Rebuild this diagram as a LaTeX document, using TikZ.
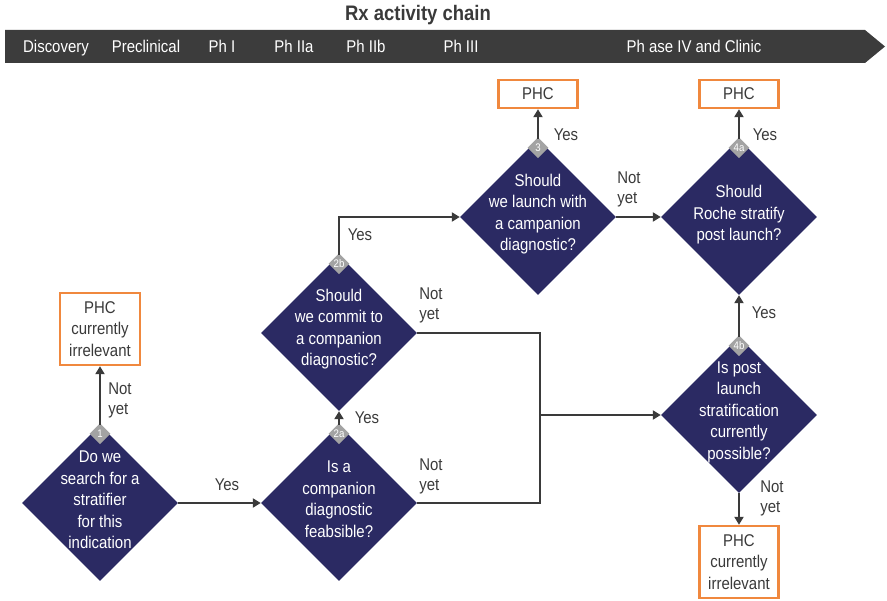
\documentclass[tikz,border=0pt]{standalone}
\usepackage{fontspec}
\setmainfont{Liberation Sans}[FakeStretch=0.88]
\usetikzlibrary{shapes.geometric,arrows.meta}
\definecolor{navy}{HTML}{2B2A63}
\definecolor{phcorange}{HTML}{F0883E}
\definecolor{band}{HTML}{3C3C3C}
\definecolor{badgegray}{HTML}{A3A3A3}
\definecolor{ink}{HTML}{3A3A3A}
\tikzset{
  dia/.style={diamond, aspect=1, fill=navy, draw=none, inner sep=0pt,
              minimum width=156pt, minimum height=156pt},
  dtext/.style={text=white, align=center, font=\fontsize{17}{21.5}\selectfont},
  badge/.style={diamond, aspect=1, fill=badgegray, inner sep=0pt,
                minimum width=21pt, minimum height=21pt, text=white,
                font=\fontsize{11}{11}\selectfont},
  phc/.style={draw=phcorange, line width=2.4pt, fill=white, text=ink,
              align=center, inner sep=0pt, font=\fontsize{17}{21.5}\selectfont},
  lbl/.style={text=ink, align=left, font=\fontsize{17}{20}\selectfont},
  conn/.style={draw=ink, line width=2pt},
  arr/.style={conn, -{Triangle[length=8pt,width=9pt]}},
  phase/.style={text=white, anchor=base, font=\fontsize{17}{20}\selectfont},
}
\begin{document}
\begin{tikzpicture}[x=1pt, y=-1pt]
\useasboundingbox (0,0) rectangle (887,601);

% title and phase band
\node[text=ink, font=\fontsize{21}{22}\selectfont\bfseries] (title) at (418,15) {Rx activity chain};
\fill[band] (5,30) -- (865,30) -- (885,46.5) -- (865,63) -- (5,63) -- cycle;
\node[phase] (p1) at (56,52.5) {Discovery};
\node[phase] (p2) at (146,52.5) {Preclinical};
\node[phase] (p3) at (222,52.5) {Ph I};
\node[phase] (p4) at (294,52.5) {Ph IIa};
\node[phase] (p5) at (366,52.5) {Ph IIb};
\node[phase] (p6) at (461,52.5) {Ph III};
\node[phase] (p7) at (694,52.5) {Ph ase IV and Clinic};

% decision diamonds
\node[dia] (d1)  at (100,503) {};
\node[dia] (d2a) at (339,503) {};
\node[dia] (d2b) at (339,333) {};
\node[dia] (d3)  at (538,217) {};
\node[dia] (d4a) at (739,217) {};
\node[dia] (d4b) at (739,415) {};

\node[dtext] (t1)  at ([yshift=3pt]d1.center)  {Do we\\search for a\\stratifier\\for this\\indication};
\node[dtext] (t2a) at ([yshift=4pt]d2a.center) {Is a\\companion\\diagnostic\\feabsible?};
\node[dtext] (t2b) at ([yshift=4pt]d2b.center) {Should\\we commit to\\a companion\\diagnostic?};
\node[dtext] (t3)  at ([yshift=3pt]d3.center)  {Should\\we launch with\\a campanion\\diagnostic?};
\node[dtext] (t4a) at ([yshift=2pt]d4a.center) {Should\\Roche stratify\\post launch?};
\node[dtext] (t4b) at ([yshift=3pt]d4b.center) {Is post\\launch\\stratification\\currently\\possible?};

% step numbers
\node[badge] (b1)  at ([yshift=-9pt]d1.north)  {1};
\node[badge] (b2a) at ([yshift=-9pt]d2a.north) {2a};
\node[badge] (b2b) at ([yshift=-9pt]d2b.north) {2b};
\node[badge] (b3)  at ([yshift=-9pt]d3.north)  {3};
\node[badge] (b4a) at ([yshift=-9pt]d4a.north) {4a};
\node[badge] (b4b) at ([yshift=-9pt]d4b.north) {4b};

% outcome boxes
\node[phc, minimum width=80pt, minimum height=72pt] (o1)  at (100,329) {PHC\\currently\\irrelevant};
\node[phc, minimum width=79pt, minimum height=28pt] (o3)  at (538,94) {PHC};
\node[phc, minimum width=79pt, minimum height=28pt] (o4a) at (739,94) {PHC};
\node[phc, minimum width=79pt, minimum height=72pt] (o4b) at (739,562) {PHC\\currently\\irrelevant};

% connectors
\coordinate (merge) at (540,415);
\draw[arr] (d1.north) -- (o1.south);
\draw[arr] (d1.east) -- (d2a.west);
\draw[arr] (d2a.north) -- (d2b.south);
\draw[arr] (d2b.north) |- (d3.west);
\draw[conn] (d2b.east) -| (merge);
\draw[conn] (d2a.east) -| (merge);
\draw[arr] (merge) -- (d4b.west);
\draw[arr] (d3.north) -- (o3.south);
\draw[arr] (d3.east) -- (d4a.west);
\draw[arr] (d4a.north) -- (o4a.south);
\draw[arr] (d4b.north) -- (d4a.south);
\draw[arr] (d4b.south) -- (o4b.north);

% connector labels
\node[lbl] (l1)  at (120,400) {Not\\yet};
\node[lbl] (l2)  at (227,485) {Yes};
\node[lbl] (l3)  at (367,418) {Yes};
\node[lbl] (l4)  at (360,235) {Yes};
\node[lbl] (l5)  at (431,305) {Not\\yet};
\node[lbl] (l6)  at (431,476) {Not\\yet};
\node[lbl] (l7)  at (566,135) {Yes};
\node[lbl] (l8)  at (629,189) {Not\\yet};
\node[lbl] (l9)  at (765,135) {Yes};
\node[lbl] (l10) at (764,313) {Yes};
\node[lbl] (l11) at (772,498) {Not\\yet};
\end{tikzpicture}
\end{document}
